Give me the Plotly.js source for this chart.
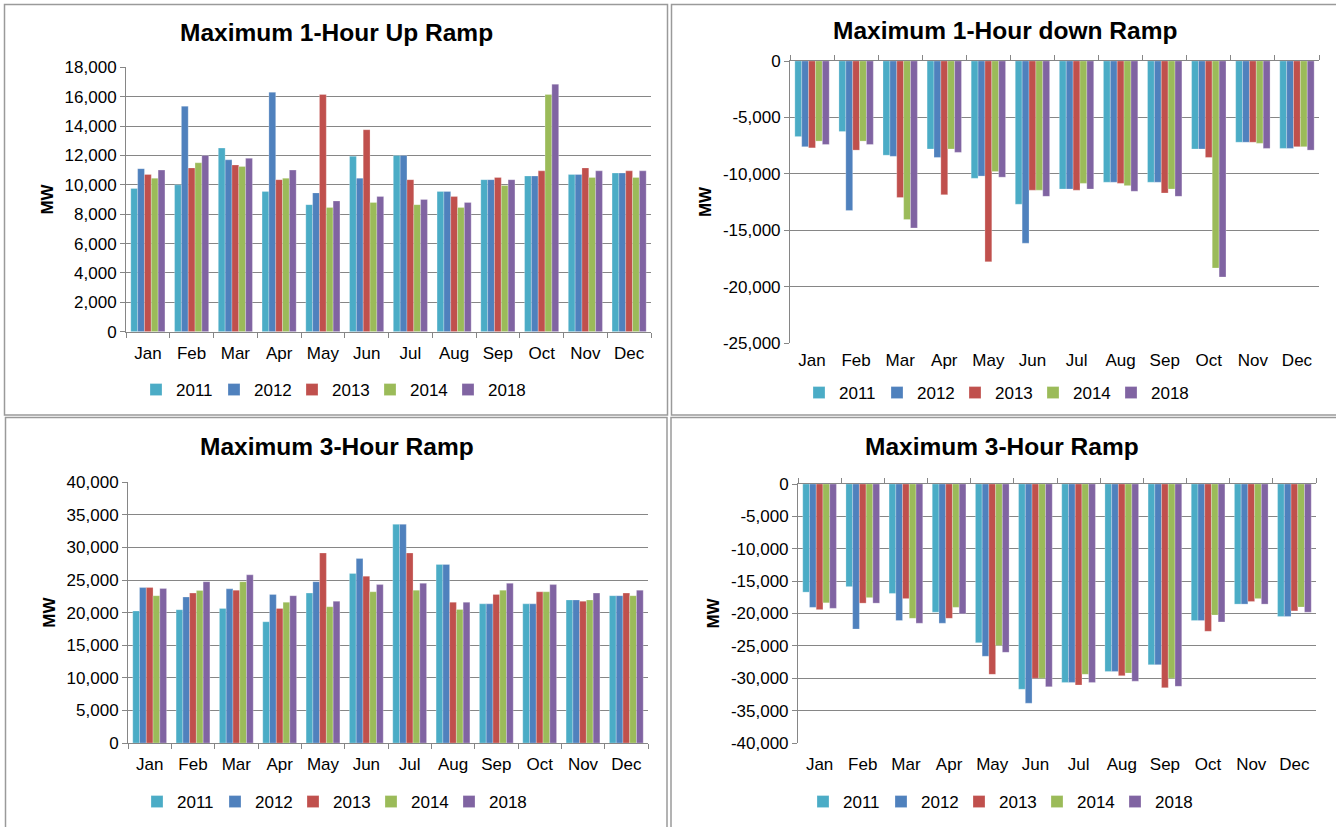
<!DOCTYPE html>
<html><head><meta charset="utf-8">
<script src="https://cdn.plot.ly/plotly-3.0.1.min.js"></script>
<style>html,body{margin:0;padding:0;background:#fff;overflow:hidden;} #chart{width:1336px;height:827px;}</style>
</head><body><div id="chart"></div>
<script>
const months = ['Jan','Feb','Mar','Apr','May','Jun','Jul','Aug','Sep','Oct','Nov','Dec'];
const years = ['2011','2012','2013','2014','2018'];
const yearColors = ['#4BACC6','#4F81BD','#C0504D','#9BBB59','#8064A2'];

const chartTitles = ['Maximum 1-Hour Up Ramp','Maximum 1-Hour down Ramp','Maximum 3-Hour Ramp','Maximum 3-Hour Ramp'];
const yTitle = 'MW';

// y tick values and labels for each chart
const ticks1Vals = [0,2000,4000,6000,8000,10000,12000,14000,16000,18000];
const ticks1Text = ['0','2,000','4,000','6,000','8,000','10,000','12,000','14,000','16,000','18,000'];
const ticks2Vals = [0,-5000,-10000,-15000,-20000,-25000];
const ticks2Text = ['0','-5,000','-10,000','-15,000','-20,000','-25,000'];
const ticks3Vals = [0,5000,10000,15000,20000,25000,30000,35000,40000];
const ticks3Text = ['0','5,000','10,000','15,000','20,000','25,000','30,000','35,000','40,000'];
const ticks4Vals = [0,-5000,-10000,-15000,-20000,-25000,-30000,-35000,-40000];
const ticks4Text = ['0','-5,000','-10,000','-15,000','-20,000','-25,000','-30,000','-35,000','-40,000'];

// Maximum 1-Hour Up Ramp (MW)
const up1h_2011 = [9750,10000,12500,9550,8650,11950,12000,9550,10350,10600,10700,10800];
const up1h_2012 = [11100,15350,11700,16300,9450,10450,12000,9550,10350,10600,10700,10800];
const up1h_2013 = [10700,11150,11350,10350,16150,13750,10350,9200,10500,10950,11150,10950];
const up1h_2014 = [10450,11500,11250,10450,8450,8800,8650,8450,9950,16150,10500,10500];
const up1h_2018 = [11000,12000,11800,11000,8900,9200,9000,8800,10350,16850,10950,10950];

// Maximum 1-Hour down Ramp (MW)
const down1h_2011 = [-6700,-6250,-8350,-7800,-10400,-12700,-11350,-10750,-10750,-7800,-7200,-7750];
const down1h_2012 = [-7600,-13250,-8450,-8550,-10200,-16150,-11350,-10750,-10750,-7800,-7200,-7750];
const down1h_2013 = [-7700,-7900,-12100,-11850,-17800,-11450,-11450,-10850,-11700,-8550,-7200,-7600];
const down1h_2014 = [-7100,-7100,-14050,-7800,-9800,-11450,-10850,-11050,-11350,-18350,-7300,-7600];
const down1h_2018 = [-7400,-7400,-14800,-8100,-10300,-12000,-11350,-11550,-12000,-19150,-7750,-7900];

// Maximum 3-Hour Ramp, up (MW)
const up3h_2011 = [20250,20450,20650,18600,23000,26000,33550,27400,21350,21350,21950,22600];
const up3h_2012 = [23850,22400,23650,22800,24750,28300,33550,27400,21350,21350,21950,22600];
const up3h_2013 = [23850,23000,23450,20650,29150,25600,29150,21600,22800,23200,21750,23000];
const up3h_2014 = [22600,23400,24750,21600,20900,23200,23450,20500,23450,23200,21950,22600];
const up3h_2018 = [23700,24750,25800,22600,21750,24300,24500,21600,24500,24300,23000,23450];

// Maximum 3-Hour Ramp, down (MW)
const down3h_2011 = [-16700,-15850,-16900,-19800,-24500,-31700,-30650,-28950,-27900,-21100,-18550,-20450];
const down3h_2012 = [-19050,-22400,-21100,-21500,-26600,-33850,-30650,-28950,-27900,-21100,-18550,-20450];
const down3h_2013 = [-19400,-18400,-17700,-20750,-29400,-30000,-31050,-29600,-31450,-22750,-18150,-19600];
const down3h_2014 = [-18350,-17550,-20750,-19050,-24950,-30000,-29400,-29200,-30000,-20250,-17700,-19000];
const down3h_2018 = [-19200,-18400,-21500,-20050,-26000,-31300,-30650,-30450,-31250,-21300,-18550,-19800];

const seriesSets = [
  [up1h_2011, up1h_2012, up1h_2013, up1h_2014, up1h_2018],
  [down1h_2011, down1h_2012, down1h_2013, down1h_2014, down1h_2018],
  [up3h_2011, up3h_2012, up3h_2013, up3h_2014, up3h_2018],
  [down3h_2011, down3h_2012, down3h_2013, down3h_2014, down3h_2018]
];
const tickSets = [[ticks1Vals,ticks1Text],[ticks2Vals,ticks2Text],[ticks3Vals,ticks3Text],[ticks4Vals,ticks4Text]];
const yRanges = [[0,18000],[-25000,0],[0,40000],[-40000,0]];

// layout geometry in pixels (page is 1336 x 827)
const W = 1336, H = 827;
const plotBoxes = [
  {l:126, r:651, t:67.3, b:331.7},
  {l:790, r:1319, t:61, b:343},
  {l:128, r:648, t:482.3, b:743},
  {l:798, r:1316, t:484, b:743}
];
const xLabelGap = [6, 5, 6, 9];
const titlePos = [{x:337,y:32},{x:1005,y:30},{x:337,y:447},{x:1002,y:447}];
const legendPos = [{x:331,y:390},{x:994,y:393},{x:332,y:802},{x:998,y:802}];
const frames = [
  {x0:4.5,x1:667.5,y0:4.5,y1:415},
  {x0:671.5,x1:1340,y0:4.5,y1:415},
  {x0:5.5,x1:667,y0:417.5,y1:830},
  {x0:671,x1:1340,y0:417.5,y1:830}
];
const px = v => v / W;
const py = v => 1 - v / H;

const gray = '#868686';
const font = 'Liberation Sans, Arial, sans-serif';
const tickSize = 17;

const data = [];
const layout = {
  width: W, height: H,
  margin: {l:0, r:0, t:0, b:0},
  paper_bgcolor: '#fff', plot_bgcolor: '#fff',
  barmode: 'group', bargap: 0.22, bargroupgap: 0,
  font: {family: font, size: tickSize, color: '#000'},
  annotations: [], shapes: []
};

seriesSets.forEach((set, ci) => {
  const n = ci + 1;
  const xa = 'x' + n, ya = 'y' + n;
  const legendName = n === 1 ? 'legend' : 'legend' + n;
  set.forEach((vals, si) => {
    data.push({
      type: 'bar', x: months, y: vals, name: years[si],
      xaxis: xa, yaxis: ya, legend: legendName,
      marker: {color: yearColors[si], line: {color: 'rgba(255,255,255,0.5)', width: 0.5}},
      hovertemplate: '%{x} ' + years[si] + ': %{y:,}<extra></extra>'
    });
  });
  const box = plotBoxes[ci];
  const negative = yRanges[ci][1] <= 0;
  layout['xaxis' + n] = {
    domain: [px(box.l), px(box.r)], anchor: ya,
    type: 'category', categoryorder: 'array', categoryarray: months,
    range: [-0.5, 11.5], fixedrange: true,
    showgrid: false, zeroline: false,
    showline: !negative, linecolor: gray, linewidth: 1,
    ticks: negative ? '' : 'outside', tickson: 'boundaries', ticklen: 5, tickcolor: gray,
    tickfont: {family: font, size: tickSize, color: '#000'},
    ticklabelstandoff: xLabelGap[ci]
  };
  layout['yaxis' + n] = {
    domain: [py(box.b), py(box.t)], anchor: xa,
    range: yRanges[ci], tickmode: 'array', tickvals: tickSets[ci][0], ticktext: tickSets[ci][1],
    fixedrange: true,
    showgrid: true, gridcolor: gray, gridwidth: 1,
    zeroline: false, showline: true, linecolor: gray, linewidth: 1,
    ticks: 'outside', ticklen: 5, tickcolor: gray,
    tickfont: {family: font, size: tickSize, color: '#000'},
    title: {text: yTitle, font: {family: font, size: 17, color: '#000', weight: 'bold'}, standoff: 6}
  };
  if (negative) {
    // top axis line with tick marks at the zero line
    const tn = n === 2 ? 5 : 6;
    layout['xaxis' + tn] = {
      overlaying: xa, anchor: ya, side: 'top',
      type: 'category', categoryorder: 'array', categoryarray: months,
      range: [-0.5, 11.5], fixedrange: true,
      showgrid: false, zeroline: false, showline: true, linecolor: gray, linewidth: 1,
      ticks: 'outside', tickson: 'boundaries', ticklen: 5, tickcolor: gray,
      showticklabels: false
    };
    data.push({
      type: 'scatter', mode: 'none', x: months, y: months.map(() => null),
      xaxis: 'x' + tn, yaxis: ya, showlegend: false, hoverinfo: 'skip'
    });
  }
  layout[legendName] = {
    orientation: 'h', x: px(legendPos[ci].x), y: py(legendPos[ci].y),
    xanchor: 'center', yanchor: 'middle', xref: 'paper', yref: 'paper',
    font: {family: font, size: tickSize, color: '#000'},
    itemwidth: 30, entrywidth: 33, tracegroupgap: 0,
    bgcolor: 'rgba(0,0,0,0)'
  };
  layout.annotations.push({
    text: chartTitles[ci], xref: 'paper', yref: 'paper',
    x: px(titlePos[ci].x), y: py(titlePos[ci].y), xanchor: 'center', yanchor: 'middle',
    showarrow: false, font: {family: font, size: 24.5, color: '#000', weight: 'bold'}
  });
  const f = frames[ci];
  layout.shapes.push({
    type: 'rect', xref: 'paper', yref: 'paper', layer: 'below',
    x0: px(f.x0), x1: px(f.x1), y0: py(f.y1), y1: py(f.y0),
    line: {color: '#9a9a9a', width: 1.5}, fillcolor: 'rgba(0,0,0,0)'
  });
});

Plotly.newPlot('chart', data, layout, {displayModeBar: false, staticPlot: true});
</script>
</body></html>
